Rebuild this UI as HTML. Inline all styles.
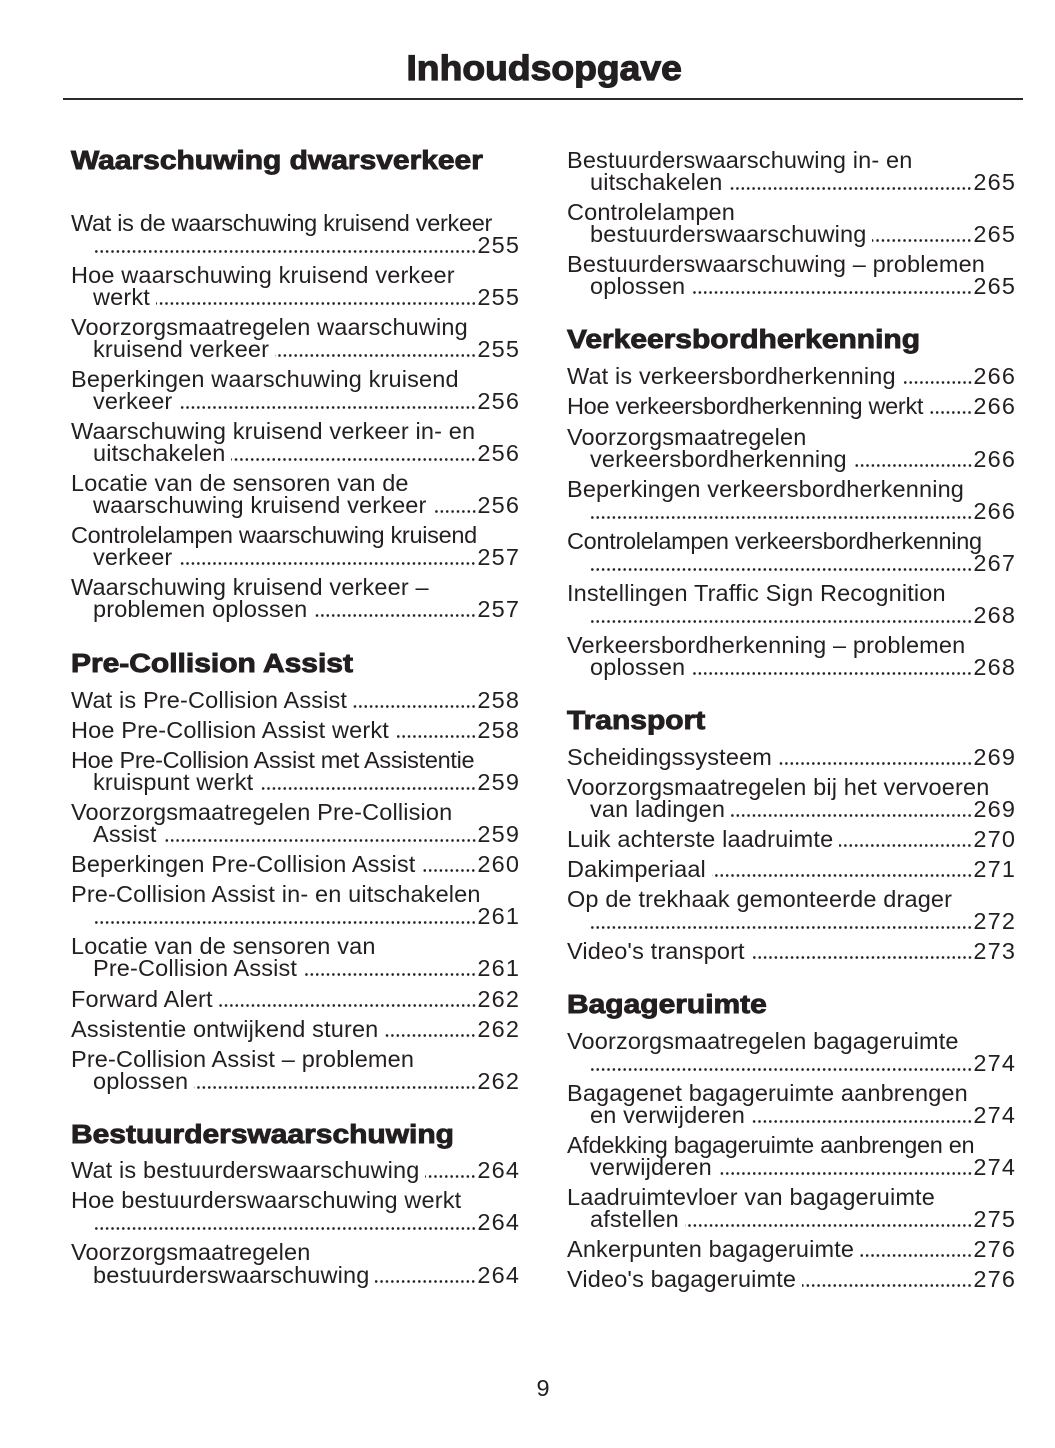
<!DOCTYPE html>
<html>
<head>
<meta charset="utf-8">
<style>
html,body{margin:0;padding:0;background:#fff;}
body{width:1055px;height:1448px;position:relative;overflow:hidden;font-family:"Liberation Sans",sans-serif;color:#231f20;}
.t{position:absolute;font-size:23.5px;line-height:22px;white-space:nowrap;letter-spacing:0.15px;}
.L{left:71px;width:448px;}
.Li{left:93px;width:426px;}
.R{left:567px;width:448px;}
.Ri{left:590px;width:425px;}
.r{display:flex;align-items:baseline;}
.d{flex:1;height:3px;margin:0 1px 0 6px;background-image:radial-gradient(circle,#231f20 1.15px,rgba(0,0,0,0) 1.5px);background-size:5.4px 3px;background-repeat:repeat-x;background-position:right bottom;}
.d0{margin-left:0;}
.n{letter-spacing:1.2px;margin-right:-1.2px;}
.k{letter-spacing:-0.3px;}
.h{position:absolute;font-size:25.5px;font-weight:bold;line-height:30px;white-space:nowrap;transform:scaleX(1.175);transform-origin:0 0;-webkit-text-stroke:0.9px #231f20;}
.title{position:absolute;left:0;width:1089px;top:48px;text-align:center;font-size:35.5px;line-height:40px;font-weight:bold;-webkit-text-stroke:1.2px #231f20;}
.title span{display:inline-block;transform:scaleX(1.05);}
.rule{position:absolute;left:63px;width:960px;top:98px;height:1.5px;background:#2b2b2b;}
.pn{position:absolute;left:523px;width:40px;text-align:center;top:1377px;font-size:23.5px;line-height:22px;}
</style>
</head>
<body>
<div class="title"><span>Inhoudsopgave</span></div>
<div class="rule"></div>

<!-- LEFT COLUMN -->
<div class="h" style="left:71px;top:146px;">Waarschuwing dwarsverkeer</div>

<div class="t L k" style="top:212px;">Wat is de waarschuwing kruisend verkeer</div>
<div class="t Li r" style="top:234px;"><span class="d d0"></span><span class="n">255</span></div>

<div class="t L" style="top:264px;">Hoe waarschuwing kruisend verkeer</div>
<div class="t Li r" style="top:286px;"><span>werkt</span><span class="d"></span><span class="n">255</span></div>

<div class="t L" style="top:316px;">Voorzorgsmaatregelen waarschuwing</div>
<div class="t Li r" style="top:338px;"><span>kruisend verkeer</span><span class="d"></span><span class="n">255</span></div>

<div class="t L" style="top:368px;">Beperkingen waarschuwing kruisend</div>
<div class="t Li r" style="top:390px;"><span>verkeer</span><span class="d"></span><span class="n">256</span></div>

<div class="t L" style="top:420px;">Waarschuwing kruisend verkeer in- en</div>
<div class="t Li r" style="top:442px;"><span>uitschakelen</span><span class="d"></span><span class="n">256</span></div>

<div class="t L" style="top:472px;">Locatie van de sensoren van de</div>
<div class="t Li r" style="top:494px;"><span>waarschuwing kruisend verkeer</span><span class="d"></span><span class="n">256</span></div>

<div class="t L k" style="top:524px;">Controlelampen waarschuwing kruisend</div>
<div class="t Li r" style="top:546px;"><span>verkeer</span><span class="d"></span><span class="n">257</span></div>

<div class="t L" style="top:576px;">Waarschuwing kruisend verkeer –</div>
<div class="t Li r" style="top:598px;"><span>problemen oplossen</span><span class="d"></span><span class="n">257</span></div>

<div class="h" style="left:71px;top:649px;">Pre-Collision Assist</div>

<div class="t L r" style="top:689px;"><span>Wat is Pre-Collision Assist</span><span class="d"></span><span class="n">258</span></div>
<div class="t L r" style="top:719px;"><span>Hoe Pre-Collision Assist werkt</span><span class="d"></span><span class="n">258</span></div>

<div class="t L k" style="top:749px;">Hoe Pre-Collision Assist met Assistentie</div>
<div class="t Li r" style="top:771px;"><span>kruispunt werkt</span><span class="d"></span><span class="n">259</span></div>

<div class="t L" style="top:801px;">Voorzorgsmaatregelen Pre-Collision</div>
<div class="t Li r" style="top:823px;"><span>Assist</span><span class="d"></span><span class="n">259</span></div>

<div class="t L r" style="top:853px;"><span>Beperkingen Pre-Collision Assist</span><span class="d"></span><span class="n">260</span></div>

<div class="t L" style="top:883px;">Pre-Collision Assist in- en uitschakelen</div>
<div class="t Li r" style="top:905px;"><span class="d d0"></span><span class="n">261</span></div>

<div class="t L" style="top:935px;">Locatie van de sensoren van</div>
<div class="t Li r" style="top:957px;"><span>Pre-Collision Assist</span><span class="d"></span><span class="n">261</span></div>

<div class="t L r" style="top:988px;"><span>Forward Alert</span><span class="d"></span><span class="n">262</span></div>
<div class="t L r" style="top:1018px;"><span>Assistentie ontwijkend sturen</span><span class="d"></span><span class="n">262</span></div>

<div class="t L" style="top:1048px;">Pre-Collision Assist – problemen</div>
<div class="t Li r" style="top:1070px;"><span>oplossen</span><span class="d"></span><span class="n">262</span></div>

<div class="h" style="left:71px;top:1120px;">Bestuurderswaarschuwing</div>

<div class="t L r" style="top:1159px;"><span>Wat is bestuurderswaarschuwing</span><span class="d"></span><span class="n">264</span></div>

<div class="t L" style="top:1189px;">Hoe bestuurderswaarschuwing werkt</div>
<div class="t Li r" style="top:1211px;"><span class="d d0"></span><span class="n">264</span></div>

<div class="t L" style="top:1241px;">Voorzorgsmaatregelen</div>
<div class="t Li r" style="top:1264px;"><span>bestuurderswaarschuwing</span><span class="d"></span><span class="n">264</span></div>

<!-- RIGHT COLUMN -->
<div class="t R" style="top:149px;">Bestuurderswaarschuwing in- en</div>
<div class="t Ri r" style="top:171px;"><span>uitschakelen</span><span class="d"></span><span class="n">265</span></div>

<div class="t R" style="top:201px;">Controlelampen</div>
<div class="t Ri r" style="top:223px;"><span>bestuurderswaarschuwing</span><span class="d"></span><span class="n">265</span></div>

<div class="t R" style="top:253px;">Bestuurderswaarschuwing – problemen</div>
<div class="t Ri r" style="top:275px;"><span>oplossen</span><span class="d"></span><span class="n">265</span></div>

<div class="h" style="left:567px;top:325px;">Verkeersbordherkenning</div>

<div class="t R r" style="top:365px;"><span>Wat is verkeersbordherkenning</span><span class="d"></span><span class="n">266</span></div>
<div class="t R r k" style="top:395px;"><span>Hoe verkeersbordherkenning werkt</span><span class="d"></span><span class="n">266</span></div>

<div class="t R" style="top:426px;">Voorzorgsmaatregelen</div>
<div class="t Ri r" style="top:448px;"><span>verkeersbordherkenning</span><span class="d"></span><span class="n">266</span></div>

<div class="t R" style="top:478px;">Beperkingen verkeersbordherkenning</div>
<div class="t Ri r" style="top:500px;"><span class="d d0"></span><span class="n">266</span></div>

<div class="t R k" style="top:530px;">Controlelampen verkeersbordherkenning</div>
<div class="t Ri r" style="top:552px;"><span class="d d0"></span><span class="n">267</span></div>

<div class="t R" style="top:582px;">Instellingen Traffic Sign Recognition</div>
<div class="t Ri r" style="top:604px;"><span class="d d0"></span><span class="n">268</span></div>

<div class="t R" style="top:634px;">Verkeersbordherkenning – problemen</div>
<div class="t Ri r" style="top:656px;"><span>oplossen</span><span class="d"></span><span class="n">268</span></div>

<div class="h" style="left:567px;top:706px;">Transport</div>

<div class="t R r" style="top:746px;"><span>Scheidingssysteem</span><span class="d"></span><span class="n">269</span></div>

<div class="t R" style="top:776px;">Voorzorgsmaatregelen bij het vervoeren</div>
<div class="t Ri r" style="top:798px;"><span>van ladingen</span><span class="d"></span><span class="n">269</span></div>

<div class="t R r" style="top:828px;"><span>Luik achterste laadruimte</span><span class="d"></span><span class="n">270</span></div>
<div class="t R r" style="top:858px;"><span>Dakimperiaal</span><span class="d"></span><span class="n">271</span></div>

<div class="t R" style="top:888px;">Op de trekhaak gemonteerde drager</div>
<div class="t Ri r" style="top:910px;"><span class="d d0"></span><span class="n">272</span></div>

<div class="t R r" style="top:940px;"><span>Video's transport</span><span class="d"></span><span class="n">273</span></div>

<div class="h" style="left:567px;top:990px;">Bagageruimte</div>

<div class="t R" style="top:1030px;">Voorzorgsmaatregelen bagageruimte</div>
<div class="t Ri r" style="top:1052px;"><span class="d d0"></span><span class="n">274</span></div>

<div class="t R" style="top:1082px;">Bagagenet bagageruimte aanbrengen</div>
<div class="t Ri r" style="top:1104px;"><span>en verwijderen</span><span class="d"></span><span class="n">274</span></div>

<div class="t R k" style="top:1134px;">Afdekking bagageruimte aanbrengen en</div>
<div class="t Ri r" style="top:1156px;"><span>verwijderen</span><span class="d"></span><span class="n">274</span></div>

<div class="t R" style="top:1186px;">Laadruimtevloer van bagageruimte</div>
<div class="t Ri r" style="top:1208px;"><span>afstellen</span><span class="d"></span><span class="n">275</span></div>

<div class="t R r" style="top:1238px;"><span>Ankerpunten bagageruimte</span><span class="d"></span><span class="n">276</span></div>
<div class="t R r" style="top:1268px;"><span>Video's bagageruimte</span><span class="d"></span><span class="n">276</span></div>

<div class="pn">9</div>
</body>
</html>
